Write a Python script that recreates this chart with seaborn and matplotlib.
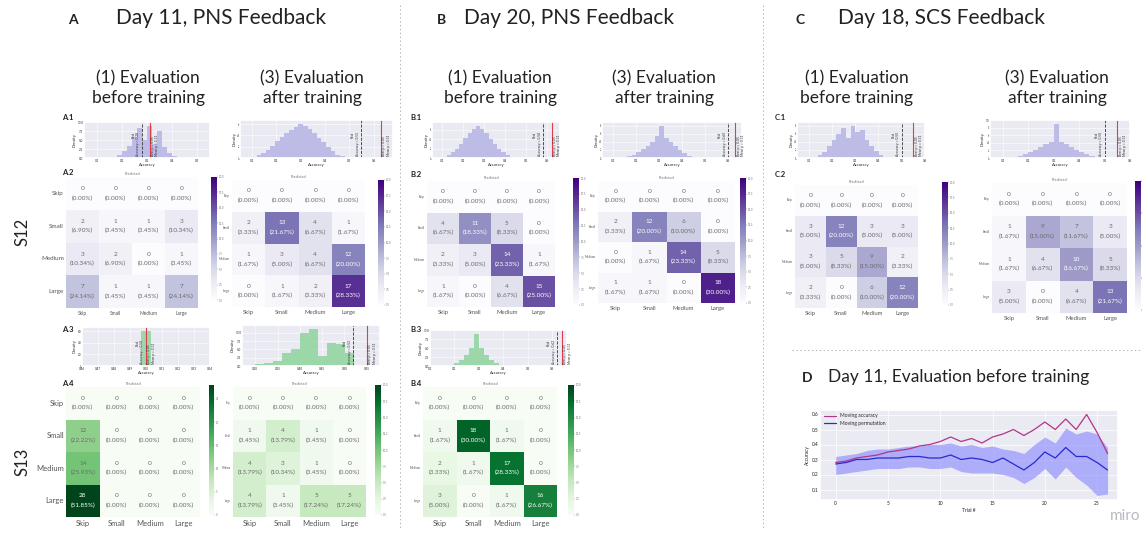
import numpy as np
import pandas as pd
import matplotlib
matplotlib.use("Agg")
import matplotlib.pyplot as plt
import seaborn as sns

W, H = 1145, 535
CLASSES = ["Skip", "Small", "Medium", "Large"]

# Confusion matrices (rows = actual, cols = predicted)
CM_A_S12_PRE  = [[0, 0, 0, 0], [2, 1, 1, 3], [3, 2, 0, 1], [7, 1, 1, 7]]
CM_A_S12_POST = [[0, 0, 0, 0], [2, 13, 4, 1], [1, 3, 4, 12], [0, 1, 2, 17]]
CM_B_S12_PRE  = [[0, 0, 0, 0], [4, 11, 5, 0], [2, 3, 14, 1], [1, 0, 4, 15]]
CM_B_S12_POST = [[0, 0, 0, 0], [2, 12, 6, 0], [0, 1, 14, 5], [1, 1, 0, 18]]
CM_C_S12_PRE  = [[0, 0, 0, 0], [3, 12, 3, 3], [3, 5, 9, 2], [2, 0, 6, 12]]
CM_C_S12_POST = [[0, 0, 0, 0], [1, 9, 7, 3], [1, 4, 10, 5], [3, 0, 4, 13]]
CM_A_S13_PRE  = [[0, 0, 0, 0], [12, 0, 0, 0], [14, 0, 0, 0], [28, 0, 0, 0]]
CM_A_S13_POST = [[0, 0, 0, 0], [1, 4, 1, 0], [4, 3, 1, 0], [4, 1, 5, 5]]
CM_B_S13_PRE  = [[0, 0, 0, 0], [1, 18, 1, 0], [2, 1, 17, 0], [3, 0, 1, 16]]

# Permutation histograms: densities over a bin range, real accuracy, threshold
HIST_A1_PRE  = [0.3, 0.8, 2, 3.5, 6, 8.5, 5, 9, 4, 7.5, 3, 1.5, 0.6]
HIST_A1_POST = [0.2, 0.5, 0.9, 1.5, 2.2, 3, 3.8, 4.5, 5, 5.5, 6, 5.6, 5.2, 4.5, 3.6, 2.8, 2, 1.2, 0.6, 0.3]
HIST_B1_PRE  = [0.2, 0.6, 1.2, 2, 3, 4.2, 5.3, 6.2, 6.8, 6.2, 5.2, 4, 3, 2, 1.2, 0.6, 0.3]
HIST_B1_POST = [0.2, 0.4, 0.8, 1.4, 2.2, 3, 4, 5.5, 8, 5, 4, 3, 2, 1.2, 0.6, 0.3]
HIST_C1_PRE  = [0.3, 0.8, 1.6, 3, 4.5, 6, 7.5, 5, 8, 6.5, 7, 4.5, 3, 1.8, 0.8, 0.3]
HIST_C1_POST = [0.1, 0.3, 0.6, 1, 1.5, 2.2, 3, 3.6, 4.2, 9, 4.3, 3.6, 3, 2.2, 1.5, 1, 0.5, 0.2]
HIST_A3_PRE  = [60]
HIST_A3_POST = [0.5, 1, 1.5, 4, 5, 10, 11, 3, 7, 6.5, 4]
HIST_B3_PRE  = [0.1, 0.3, 0.8, 1.6, 3, 5, 9, 5, 3, 1.6, 0.8, 0.4, 0.2, 0.1]

HIST_SPECS = {
    # name: (densities, bin lo, bin hi, xlim, real accuracy, red threshold)
    "A1_pre":  (HIST_A1_PRE,  0.16, 0.42, (0.05, 0.55), 0.28, 0.31),
    "A1_post": (HIST_A1_POST, 0.10, 0.48, (0.05, 0.68), 0.55, 0.63),
    "B1_pre":  (HIST_B1_PRE,  0.10, 0.44, (0.05, 0.66), 0.58, 0.62),
    "B1_post": (HIST_B1_POST, 0.14, 0.46, (0.05, 0.66), 0.60, 0.63),
    "C1_pre":  (HIST_C1_PRE,  0.12, 0.44, (0.05, 0.60), 0.50, 0.55),
    "C1_post": (HIST_C1_POST, 0.12, 0.48, (0.05, 0.60), 0.50, 0.55),
    "A3_pre":  (HIST_A3_PRE,  0.497, 0.503, (0.46, 0.54), 0.50, 0.50),
    "A3_post": (HIST_A3_POST, 0.30, 0.52, (0.27, 0.58), 0.52, 0.55),
    "B3_pre":  (HIST_B3_PRE,  0.16, 0.44, (0.10, 0.66), 0.62, 0.64),
}

# Panel D: moving accuracy vs moving permutation (Day 11, before training)
TRIALS = list(range(27))
MOV_ACC = [0.28, 0.29, 0.31, 0.32, 0.33, 0.35, 0.36, 0.37, 0.39, 0.40, 0.42, 0.45, 0.42, 0.44,
           0.41, 0.45, 0.47, 0.50, 0.46, 0.50, 0.55, 0.50, 0.57, 0.50, 0.60, 0.48, 0.34]
PERM_MEAN = [0.27, 0.28, 0.30, 0.30, 0.31, 0.31, 0.31, 0.32, 0.32, 0.31, 0.31, 0.33, 0.30, 0.31,
             0.30, 0.28, 0.31, 0.27, 0.23, 0.28, 0.35, 0.31, 0.38, 0.32, 0.32, 0.28, 0.23]
PERM_LO = [0.20, 0.21, 0.22, 0.23, 0.24, 0.24, 0.24, 0.25, 0.25, 0.24, 0.24, 0.25, 0.22, 0.21,
           0.21, 0.21, 0.20, 0.18, 0.14, 0.18, 0.24, 0.17, 0.25, 0.18, 0.13, 0.06, 0.07]
PERM_HI = [0.32, 0.33, 0.34, 0.36, 0.37, 0.37, 0.38, 0.39, 0.39, 0.40, 0.40, 0.41, 0.39, 0.40,
           0.38, 0.39, 0.37, 0.36, 0.34, 0.40, 0.45, 0.41, 0.51, 0.47, 0.49, 0.47, 0.38]

sns.set_theme(style="darkgrid")
plt.rcParams["font.family"] = ["Lato", "DejaVu Sans"]

PURPLE_BAR = "#b4b4e4"
GREEN_BAR = "#8ed49c"
TXT = "#222222"


def px_axes(fig, x0, y0, x1, y1):
    """Axes placed in pixel coords of the 1145x535 canvas (y grows downward)."""
    return fig.add_axes([x0 / W, 1 - y1 / H, (x1 - x0) / W, (y1 - y0) / H])


def draw_hist(fig, key, box, color):
    dens, lo, hi, xlim, real, thr = HIST_SPECS[key]
    ax = px_axes(fig, *box)
    n = len(dens)
    centers = np.linspace(lo, hi, n) if n > 1 else np.array([(lo + hi) / 2])
    sns.histplot(x=centers, weights=dens, bins=n, binrange=(lo - 1e-3, hi + 1e-3) if n > 1 else (lo, hi),
                 color=color, alpha=0.85, edgecolor="none", ax=ax)
    ax.axvline(real, color="#333333", lw=0.6, ls="--")
    ax.axvline(thr, color="#e03c4a", lw=0.8)
    top = max(dens)
    span = xlim[1] - xlim[0]
    ax.text(real - 0.012 * span, top * 0.05, f"Real\nAccuracy = {real:.2f}",
            rotation=90, fontsize=2.4, color="#333", ha="right", va="bottom")
    ax.text(thr + 0.01 * span, top * 0.05, "Best p = 0.05\nMean p = 0.31",
            rotation=90, fontsize=2.4, color="#333", ha="left", va="bottom")
    ax.set_xlim(*xlim)
    ax.set_ylim(0, top * 1.12)
    ax.set_xlabel("Accuracy", fontsize=3, labelpad=0.5)
    ax.set_ylabel("Density", fontsize=3, labelpad=0.5)
    ax.tick_params(labelsize=2.2, length=0, pad=0.5)
    ax.grid(color="white", lw=0.4)
    return ax


def draw_cm(fig, counts, cells, cbar, cmap, vmax, ysize=2.2, xsize=4.2, cbar_labels=True):
    ax = px_axes(fig, *cells)
    cax = px_axes(fig, *cbar)
    cm = np.array(counts)
    total = cm.sum()
    annot = np.array([[f"{v}\n({100 * v / total:.2f}%)" for v in row] for row in cm])
    df = pd.DataFrame(cm, index=CLASSES, columns=CLASSES)
    sns.heatmap(df, annot=annot, fmt="", cmap=cmap, vmin=0, vmax=vmax, ax=ax, cbar_ax=cax,
                annot_kws={"fontsize": 4.6, "linespacing": 2.0})
    for t in ax.texts:
        if t.get_color() not in ("w", "white"):
            t.set_color("#6a6a6a")
    ax.set_xlabel("")
    ax.set_ylabel("")
    ax.set_title("Predicted", fontsize=2.6, color="#666", pad=1.5)
    ax.tick_params(axis="x", labelsize=xsize, length=0, pad=2, labelcolor="#555", rotation=0)
    ax.tick_params(axis="y", labelsize=ysize, length=0, pad=1.5, labelcolor="#555", rotation=0)
    if cbar_labels:
        cax.tick_params(labelsize=2.0, length=1, width=0.3, pad=0.5, colors="#777")
    else:
        cax.tick_params(labelright=False, length=1, width=0.3)
    for sp in cax.spines.values():
        sp.set_visible(False)
    return ax


fig = plt.figure(figsize=(W / 100, H / 100), dpi=100, facecolor="white")

# ── Section headers ───────────────────────────────────────────────────────────
for letter, lx, title, tx in [("A", 68, "Day 11, PNS Feedback", 116),
                              ("B", 437, "Day 20, PNS Feedback", 464),
                              ("C", 795, "Day 18, SCS Feedback", 838)]:
    fig.text(lx / W, 1 - 20 / H, letter, fontsize=10, fontweight="bold", color=TXT, va="center")
    fig.text(tx / W, 1 - 18 / H, title, fontsize=15, color=TXT, va="center")

for cx, label in [(148, "(1) Evaluation\nbefore training"), (312, "(3) Evaluation\nafter training"),
                  (500, "(1) Evaluation\nbefore training"), (664, "(3) Evaluation\nafter training"),
                  (857, "(1) Evaluation\nbefore training"), (1057, "(3) Evaluation\nafter training")]:
    fig.text(cx / W, 1 - 88 / H, label, fontsize=12.5, color=TXT, ha="center", va="center",
             linespacing=1.3)

fig.text(22 / W, 1 - 232 / H, "S12", fontsize=12, color=TXT, rotation=90, ha="center", va="center")
fig.text(22 / W, 1 - 462 / H, "S13", fontsize=12, color=TXT, rotation=90, ha="center", va="center")

for lbl, x, y in [("A.1", 62, 117), ("A.2", 62, 172), ("A.3", 62, 330), ("A.4", 62, 383),
                  ("B.1", 410, 117), ("B.2", 410, 175), ("B.3", 410, 330), ("B.4", 410, 383),
                  ("C.1", 775, 117), ("C.2", 775, 175)]:
    fig.text(x / W, 1 - y / H, lbl, fontsize=5.5, fontweight="bold", color=TXT, va="center")

# ── Permutation histograms ───────────────────────────────────────────────────
draw_hist(fig, "A1_pre", (84, 122, 210, 158), PURPLE_BAR)
draw_hist(fig, "A1_post", (240, 120, 393, 158), PURPLE_BAR)
draw_hist(fig, "B1_pre", (432, 122, 560, 158), PURPLE_BAR)
draw_hist(fig, "B1_post", (602, 122, 742, 158), PURPLE_BAR)
draw_hist(fig, "C1_pre", (797, 122, 925, 158), PURPLE_BAR)
draw_hist(fig, "C1_post", (990, 120, 1130, 158), PURPLE_BAR)
draw_hist(fig, "A3_pre", (82, 327, 210, 366), GREEN_BAR)
draw_hist(fig, "A3_post", (242, 325, 380, 366), GREEN_BAR)
draw_hist(fig, "B3_pre", (430, 330, 567, 366), GREEN_BAR)

# ── Confusion matrices ───────────────────────────────────────────────────────
draw_cm(fig, CM_A_S12_PRE, (66, 177, 198, 308), (211, 177, 217, 300), "Purples", 20, ysize=4.5, xsize=3.5)
draw_cm(fig, CM_A_S12_POST, (232, 180, 365, 307), (378, 180, 384, 305), "Purples", 20)
draw_cm(fig, CM_B_S12_PRE, (427, 181, 555, 307), (573, 178, 579, 305), "Purples", 20)
draw_cm(fig, CM_B_S12_POST, (598, 181, 735, 303), (740, 178, 746, 303), "Purples", 20)
draw_cm(fig, CM_C_S12_PRE, (795, 185, 918, 308), (942, 182, 948, 305), "Purples", 20)
draw_cm(fig, CM_C_S12_POST, (992, 183, 1127, 313), (1135, 181, 1141, 310), "Purples", 20,
        cbar_labels=False)
draw_cm(fig, CM_A_S13_PRE, (66, 387, 200, 517), (209, 385, 214, 515), "Greens", 28, ysize=5.5, xsize=5.5)
draw_cm(fig, CM_A_S13_POST, (233, 387, 366, 517), (375, 385, 381, 515), "Greens", 20, ysize=1.8,
        xsize=5.5)
draw_cm(fig, CM_B_S13_PRE, (423, 387, 557, 517), (568, 385, 574, 515), "Greens", 20, xsize=5.5)

# ── Panel D ──────────────────────────────────────────────────────────────────
fig.text(802 / W, 1 - 378 / H, "D", fontsize=10, fontweight="bold", color=TXT, va="center")
fig.text(828 / W, 1 - 377 / H, "Day 11, Evaluation before training", fontsize=12.5, color=TXT, va="center")

axd = px_axes(fig, 820, 410, 1118, 500)
df_d = pd.DataFrame({"trial": TRIALS, "acc": MOV_ACC, "perm": PERM_MEAN, "lo": PERM_LO, "hi": PERM_HI})
axd.fill_between(df_d["trial"], df_d["lo"], df_d["hi"], color="#7b7bff", alpha=0.55, lw=0)
sns.lineplot(data=df_d, x="trial", y="acc", color="#b0368a", lw=0.9, ax=axd, label="Moving accuracy")
sns.lineplot(data=df_d, x="trial", y="perm", color="#2a2ad0", lw=0.9, ax=axd, label="Moving permutation")
axd.set_xlim(-1.5, 27)
axd.set_ylim(0.03, 0.63)
axd.set_xticks([0, 5, 10, 15, 20, 25])
axd.set_yticks([0.1, 0.2, 0.3, 0.4, 0.5, 0.6])
axd.tick_params(labelsize=3.5, length=0, pad=1)
axd.set_xlabel("Trial #", fontsize=3.5, labelpad=1)
axd.set_ylabel("Accuracy", fontsize=3.5, labelpad=1)
axd.grid(color="white", lw=0.5)
axd.legend(loc="upper left", fontsize=3.6, frameon=False, handlelength=2.5, borderaxespad=0.3)

# ── Separators and watermark ─────────────────────────────────────────────────
sep = fig.add_axes([0, 0, 1, 1], facecolor="none")
sep.set_xlim(0, W)
sep.set_ylim(H, 0)
sep.axis("off")
sep.plot([400, 400], [5, 530], color="#b5b5b5", lw=0.7, ls=(0, (1.5, 2.5)))
sep.plot([763, 763], [5, 530], color="#b5b5b5", lw=0.7, ls=(0, (1.5, 2.5)))
sep.plot([792, 1140], [350, 350], color="#b5b5b5", lw=0.7, ls=(0, (1.5, 2.5)))
fig.text(1140 / W, 1 - 516 / H, "miro", fontsize=11, color="#b9b9c2", ha="right", va="center")

fig.savefig("out.png", dpi=100, facecolor="white")
